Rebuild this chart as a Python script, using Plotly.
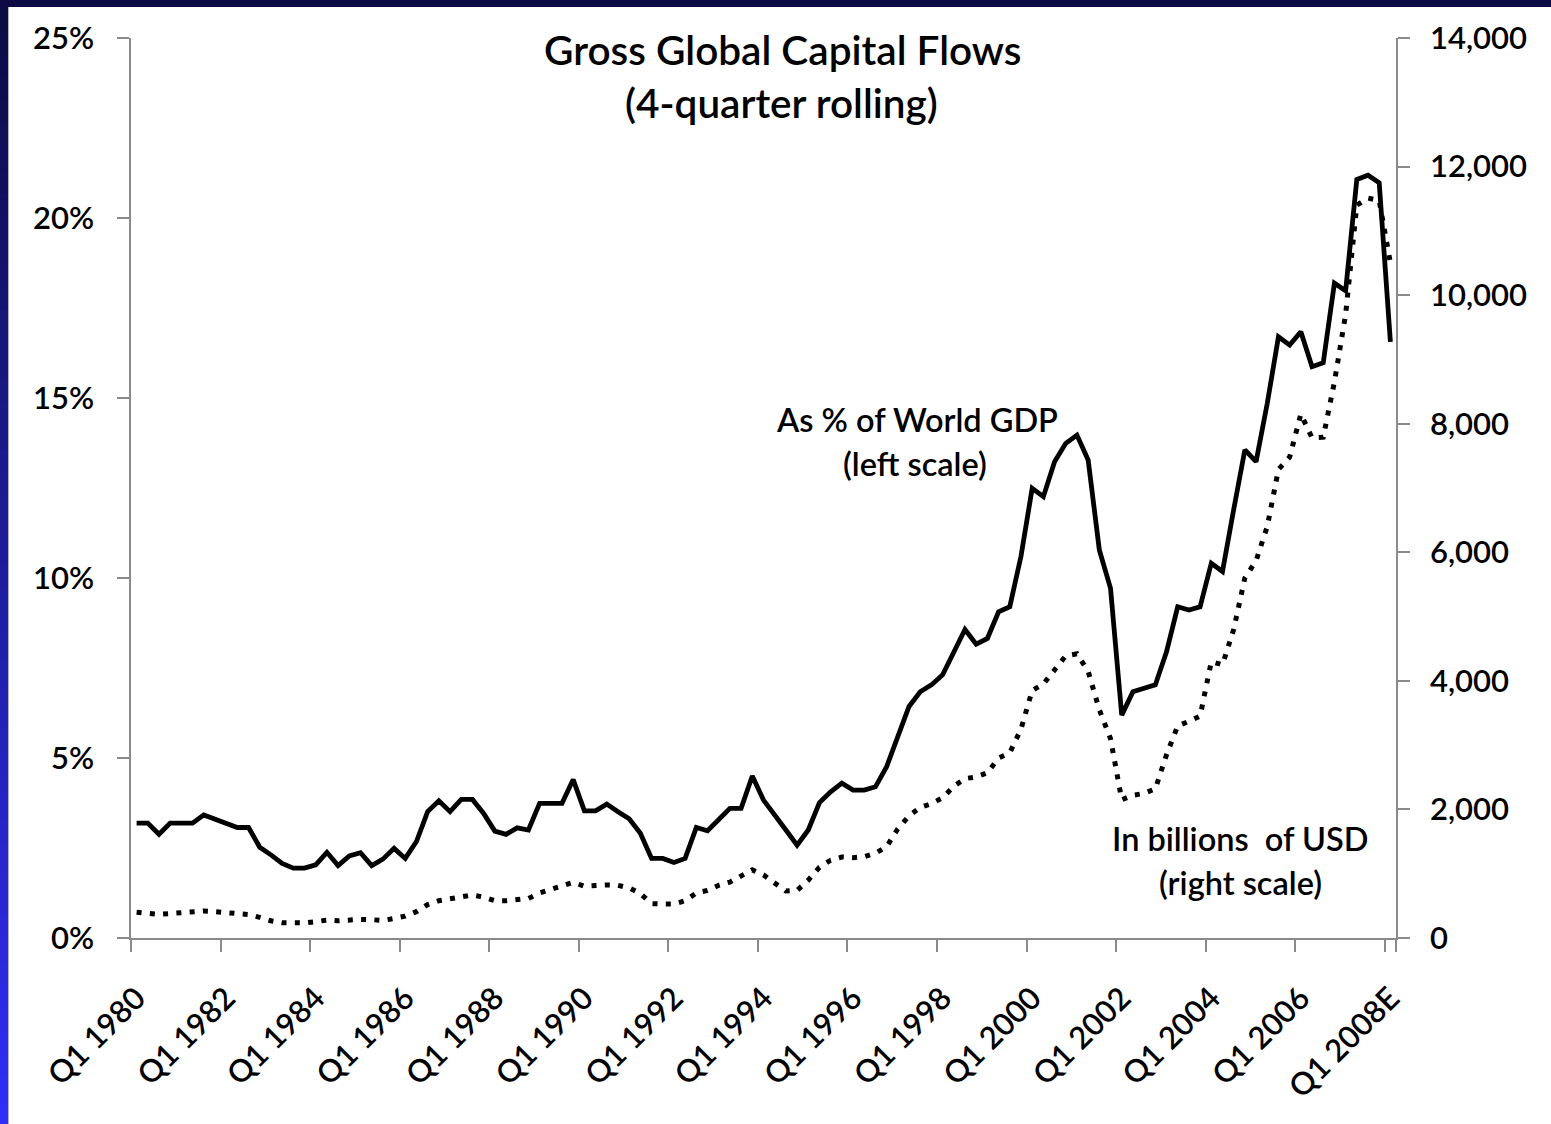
import plotly.graph_objects as go

# ---------------- data ----------------
years = list(range(1980, 2009))
quarters = [f"Q{q} {y}" for y in years for q in (1, 2, 3, 4)][:113]
quarters[-1] = "Q1 2008E"

tick_labels = ["Q1 1980", "Q1 1982", "Q1 1984", "Q1 1986", "Q1 1988", "Q1 1990",
               "Q1 1992", "Q1 1994", "Q1 1996", "Q1 1998", "Q1 2000", "Q1 2002",
               "Q1 2004", "Q1 2006", "Q1 2008E"]

# Gross capital flows as % of world GDP (left scale)
pct_gdp = [
    3.19, 3.19, 2.88, 3.19, 3.19, 3.19, 3.42, 3.31, 3.19, 3.07,
    3.07, 2.52, 2.31, 2.07, 1.94, 1.94, 2.03, 2.38, 2.01, 2.28,
    2.37, 2.01, 2.19, 2.49, 2.21, 2.68, 3.51, 3.81, 3.51, 3.85,
    3.85, 3.46, 2.97, 2.88, 3.06, 3.00, 3.74, 3.74, 3.74, 4.40,
    3.53, 3.53, 3.72, 3.51, 3.31, 2.91, 2.21, 2.21, 2.10, 2.21,
    3.07, 2.98, 3.28, 3.60, 3.60, 4.50, 3.83, 3.44, 3.00, 2.58,
    3.00, 3.76, 4.06, 4.30, 4.11, 4.11, 4.20, 4.76, 5.59, 6.43,
    6.84, 7.03, 7.31, 7.91, 8.57, 8.16, 8.32, 9.06, 9.20, 10.60,
    12.49, 12.26, 13.23, 13.74, 13.97, 13.28, 10.78, 9.71, 6.19, 6.84,
    6.94, 7.03, 7.95, 9.20, 9.11, 9.20, 10.41, 10.18, 11.90, 13.56,
    13.23, 14.85, 16.70, 16.47, 16.84, 15.87, 15.98, 18.19, 17.98, 21.07,
    21.19, 20.98, 16.56,
]

# Gross capital flows in billions of USD (right scale)
usd_bn = [
    400, 380, 369, 380, 395, 400, 420, 410, 395, 385,
    365, 320, 268, 238, 228, 235, 255, 278, 268, 282,
    290, 285, 272, 305, 340, 410, 520, 580, 615, 650,
    670, 635, 580, 580, 600, 615, 700, 757, 800, 865,
    805, 820, 825, 820, 780, 690, 535, 529, 529, 580,
    700, 740, 820, 870, 960, 1060, 980, 860, 730, 740,
    900, 1100, 1210, 1260, 1250, 1265, 1320, 1420, 1700, 1900,
    2030, 2090, 2180, 2360, 2480, 2505, 2570, 2800, 2880, 3250,
    3850, 3950, 4170, 4390, 4420, 4150, 3550, 3100, 2150, 2220,
    2250, 2320, 2850, 3300, 3370, 3450, 4300, 4250, 4800, 5600,
    5870, 6400, 7290, 7480, 8150, 7780, 7790, 8650, 9700, 11400,
    11510, 11470, 10500,
]

# ---------------- layout helpers ----------------
W, H = 1551, 1124
PL, PR, PT, PB = 131, 1396, 38, 938   # plot area in pixels


def px(x):
    return (x - PL) / (PR - PL)


def py(y):
    return (PB - y) / (PB - PT)


FONT = "Lato"
FS = 31
WEIGHT = 600
AXIS_COL = "#8a8a8a"

fig = go.Figure()
fig.add_trace(go.Scatter(
    x=quarters, y=pct_gdp, mode="lines", name="As % of World GDP",
    line=dict(color="black", width=4.8), yaxis="y", showlegend=False,
))
fig.add_trace(go.Scatter(
    x=quarters, y=usd_bn, mode="lines", name="In billions of USD",
    line=dict(color="black", width=5, dash="5px,8.3px"), yaxis="y2", showlegend=False,
))

annotations = []
for text, x, y, size in [
    ("Gross Global Capital Flows", 782, 50, 40.5),
    ("(4-quarter rolling)", 781, 103, 40.5),
    ("As % of World GDP", 917, 420, 32.5),
    ("(left scale)", 915, 463, 32.5),
    ("In billions  of USD", 1240, 838, 32.5),
    ("(right scale)", 1240, 882, 32.5),
]:
    annotations.append(dict(
        text=text, x=px(x), y=py(y), xref="paper", yref="paper",
        xanchor="center", yanchor="middle", showarrow=False,
        font=dict(family=FONT, size=size, color="black", weight=WEIGHT),
    ))

shapes = []
# top navy band
shapes.append(dict(type="rect", xref="paper", yref="paper",
                   x0=px(0), x1=px(W), y0=py(7), y1=py(0),
                   fillcolor="#0d0b44", line=dict(width=0), layer="above"))
# left gradient band
N = 48
c0 = (13, 11, 68)
c1 = (48, 46, 245)
for k in range(N):
    t = k / (N - 1)
    col = "rgb({},{},{})".format(*[int(round(a + (b - a) * t)) for a, b in zip(c0, c1)])
    y_top = 7 + (H - 7) * k / N
    y_bot = 7 + (H - 7) * (k + 1) / N + 1
    shapes.append(dict(type="rect", xref="paper", yref="paper",
                       x0=px(0), x1=px(8), y0=py(y_bot), y1=py(y_top),
                       fillcolor=col, line=dict(width=0), layer="above"))
shapes.append(dict(type="line", xref="paper", yref="paper",
                   x0=px(8.5), x1=px(8.5), y0=py(H), y1=py(7),
                   line=dict(color="#b4b4b4", width=1), layer="above"))

tickfont = dict(family=FONT, size=FS, color="black", weight=WEIGHT)

fig.update_layout(
    width=W, height=H,
    margin=dict(l=PL, r=W - PR, t=PT, b=H - PB, pad=0),
    paper_bgcolor="white", plot_bgcolor="white",
    font=dict(family=FONT, size=FS, color="black"),
    xaxis=dict(
        type="category", categoryorder="array", categoryarray=quarters,
        range=[-0.5, len(quarters) - 0.5],
        tickmode="array", tickvals=tick_labels, ticktext=tick_labels,
        tickson="boundaries", ticks="outside", ticklen=12, tickwidth=1.5,
        tickcolor=AXIS_COL, tickangle=-45, ticklabelstandoff=28,
        showline=True, linecolor=AXIS_COL, linewidth=1.5,
        showgrid=False, zeroline=False, tickfont=tickfont,
    ),
    yaxis=dict(
        range=[0, 25], tickmode="linear", tick0=0, dtick=5, ticksuffix="%",
        ticks="outside", ticklen=12, tickwidth=1.5, tickcolor=AXIS_COL,
        showline=True, linecolor=AXIS_COL, linewidth=1.5,
        showgrid=False, zeroline=False, ticklabelstandoff=17, tickfont=tickfont,
    ),
    yaxis2=dict(
        range=[0, 14000], tickmode="linear", tick0=0, dtick=2000, tickformat=",d",
        overlaying="y", side="right", anchor="x",
        ticks="outside", ticklen=12, tickwidth=1.5, tickcolor=AXIS_COL,
        showline=True, linecolor=AXIS_COL, linewidth=1.5,
        showgrid=False, zeroline=False, ticklabelstandoff=14, tickfont=tickfont,
    ),
    annotations=annotations,
    shapes=shapes,
)

fig.write_html("out.html", config={"displayModeBar": False},
               post_script="document.body.style.margin='0';")
